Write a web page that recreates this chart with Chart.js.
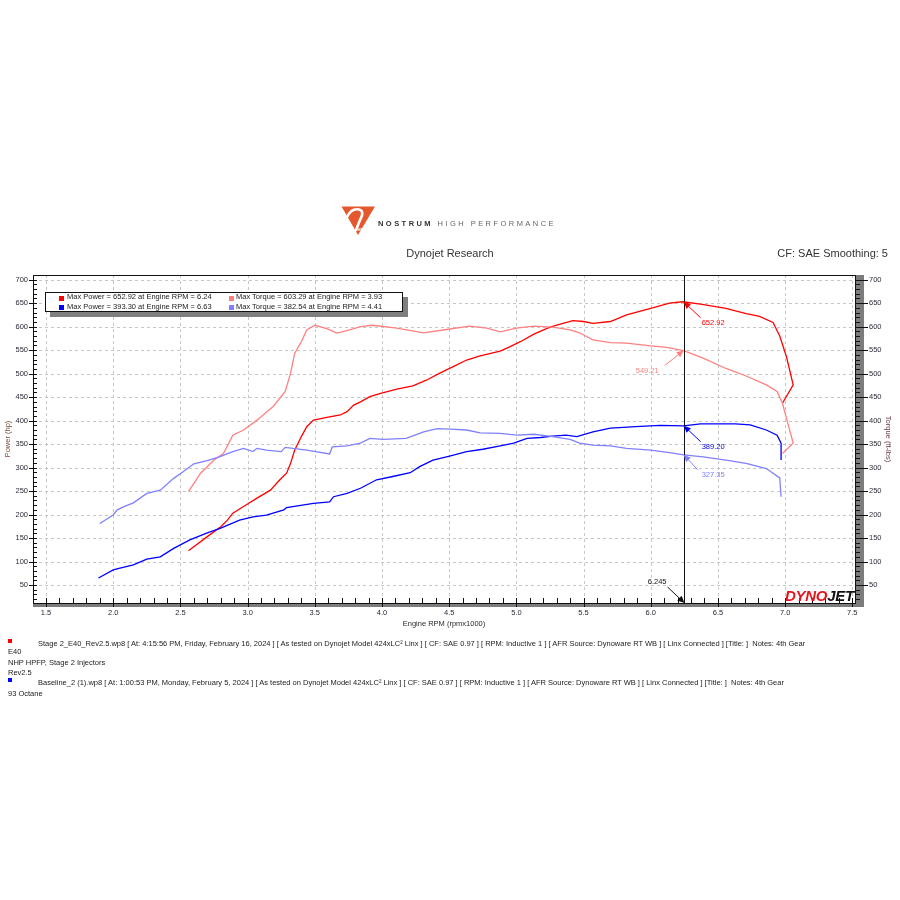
<!DOCTYPE html>
<html>
<head>
<meta charset="utf-8">
<script src="https://cdn.jsdelivr.net/npm/chart.js@4.4.1/dist/chart.umd.min.js"></script>
<style>
html,body{margin:0;padding:0;background:#fff;}
#wrap{position:relative;width:900px;height:900px;overflow:hidden;font-family:"Liberation Sans",Arial,sans-serif;color:#222;background:#fff;}
#c{position:absolute;left:0;top:0;}
.t{position:absolute;white-space:pre;font-size:7.5px;line-height:10px;height:10px;}
.sq{position:absolute;width:4px;height:4px;}
#legend{position:absolute;left:45px;top:292px;width:356px;height:18px;border:1px solid #111;background:#fff;box-shadow:5px 5px 0 #7f7f7f;}
#legend .sq{width:5px;height:5px;}
#nost{position:absolute;left:378px;top:219px;font-size:7.5px;line-height:10px;letter-spacing:2.45px;white-space:pre;}
#dj{position:absolute;left:785px;top:588px;font-size:15px;line-height:16px;font-weight:bold;font-style:italic;letter-spacing:-0.3px;white-space:pre;}
</style>
</head>
<body>
<div id="wrap">
<canvas id="c" width="900" height="900"></canvas>

<svg style="position:absolute;left:338px;top:203px" width="40" height="36" viewBox="0 0 40 36">
  <polygon points="3.5,3.5 37,3.5 20,32" fill="#e5582d"/>
  <path d="M8.5,15 Q13,5 21,6.5 Q27,8 22,17 L18,27" fill="none" stroke="#fff" stroke-width="2.6" stroke-linecap="round"/>
  <text x="19.5" y="28" font-size="4.2" font-family="Liberation Sans" fill="#fff" font-weight="bold">HP</text>
</svg>
<div id="nost"><span style="color:#333;font-weight:bold">NOSTRUM</span><span style="color:#666"> HIGH PERFORMANCE</span></div>

<div class="t" style="left:0;width:900px;text-align:center;top:246px;font-size:11px;line-height:14px;height:14px;color:#333">Dynojet Research</div>
<div class="t" style="right:12px;top:246px;font-size:11px;line-height:14px;height:14px;color:#333">CF: SAE Smoothing: 5</div>

<div id="legend">
  <div class="sq" style="left:13px;top:3px;background:#ff0000"></div>
  <div class="t" style="left:21px;top:-1px">Max Power = 652.92 at Engine RPM = 6.24</div>
  <div class="sq" style="left:183px;top:3px;background:#ff8080"></div>
  <div class="t" style="left:190px;top:-1px">Max Torque = 603.29 at Engine RPM = 3.93</div>
  <div class="sq" style="left:13px;top:12px;background:#0000ff"></div>
  <div class="t" style="left:21px;top:9px">Max Power = 393.30 at Engine RPM = 6.63</div>
  <div class="sq" style="left:183px;top:12px;background:#8080ff"></div>
  <div class="t" style="left:190px;top:9px">Max Torque = 382.54 at Engine RPM = 4.41</div>
</div>

<div id="dj"><span style="color:#e8141c">DYNO</span><span style="color:#111">JET</span></div>

<div class="sq" style="left:8px;top:639px;background:#ff0000"></div>
<div class="t" style="left:38px;top:639px">Stage 2_E40_Rev2.5.wp8 [ At: 4:15:56 PM, Friday, February 16, 2024 ] [ As tested on Dynojet Model 424xLC² Linx ] [ CF: SAE 0.97 ] [ RPM: Inductive 1 ] [ AFR Source: Dynoware RT WB ] [ Linx Connected ] [Title: ]  Notes: 4th Gear</div>
<div class="t" style="left:8px;top:647px">E40</div>
<div class="t" style="left:8px;top:657.5px">NHP HPFP, Stage 2 Injectors</div>
<div class="t" style="left:8px;top:668px">Rev2.5</div>
<div class="sq" style="left:8px;top:678px;background:#0000ff"></div>
<div class="t" style="left:38px;top:678px">Baseline_2 (1).wp8 [ At: 1:00:53 PM, Monday, February 5, 2024 ] [ As tested on Dynojet Model 424xLC² Linx ] [ CF: SAE 0.97 ] [ RPM: Inductive 1 ] [ AFR Source: Dynoware RT WB ] [ Linx Connected ] [Title: ]  Notes: 4th Gear</div>
<div class="t" style="left:8px;top:689px">93 Octane</div>
</div>

<script>
// ---------- DATA ----------
const xTickValues = [1.5, 2.0, 2.5, 3.0, 3.5, 4.0, 4.5, 5.0, 5.5, 6.0, 6.5, 7.0, 7.5];
const xTickLabels = ["1.5","2.0","2.5","3.0","3.5","4.0","4.5","5.0","5.5","6.0","6.5","7.0","7.5"];
const yTickValues = [50,100,150,200,250,300,350,400,450,500,550,600,650,700];
const yTickLabels = ["50","100","150","200","250","300","350","400","450","500","550","600","650","700"];

// Stage 2 E40 – power (hp)
const stage2PowerRpm = [2.56,2.70,2.80,2.85,2.89,2.97,3.07,3.17,3.24,3.29,3.32,3.35,3.40,3.44,3.49,3.59,3.69,3.74,3.79,3.84,3.91,3.99,4.11,4.23,4.33,4.43,4.53,4.63,4.73,4.88,4.95,5.03,5.13,5.25,5.32,5.42,5.50,5.57,5.70,5.82,6.00,6.14,6.24,6.37,6.56,6.71,6.81,6.91,6.96,7.01,7.06,6.98];
const stage2Power    = [123,153,174,188,203,217,235,252,274,288,309,337,366,387,401,407,412,419,433,440,451,458,467,474,486,501,515,529,538,548,557,568,584,599,605,613,611,607,611,625,639,650,653,648,639,628,622,609,580,536,476,437];
// Stage 2 E40 – torque (ft-lbs)
const stage2TorqueRpm = [2.56,2.65,2.75,2.82,2.89,2.97,3.07,3.19,3.28,3.32,3.35,3.40,3.44,3.50,3.59,3.66,3.69,3.79,3.84,3.93,4.11,4.31,4.48,4.65,4.78,4.88,5.00,5.13,5.27,5.40,5.47,5.57,5.70,5.82,6.00,6.12,6.245,6.39,6.56,6.71,6.86,6.94,6.98,7.02,7.06,6.98];
const stage2Torque    = [249,288,316,330,369,380,401,430,462,501,543,568,593,603,596,587,588,596,600,603,597,587,594,601,597,589,597,601,599,593,587,572,566,565,559,556,549,533,511,495,476,462,437,394,352,330];
// Baseline – power (hp)
const basePowerRpm = [1.89,2.00,2.05,2.15,2.25,2.35,2.45,2.57,2.70,2.80,2.94,3.04,3.14,3.27,3.29,3.49,3.61,3.64,3.74,3.84,3.96,4.08,4.21,4.28,4.38,4.51,4.63,4.75,4.88,4.98,5.08,5.18,5.27,5.37,5.45,5.57,5.70,5.89,6.07,6.245,6.37,6.63,6.74,6.86,6.94,6.97,6.97];
const basePower    = [65,82,86,93,105,110,128,146,161,171,188,195,199,210,215,224,227,238,245,256,274,281,289,302,316,325,334,339,346,352,362,364,367,369,366,376,384,387,390,389,393,393,391,380,369,352,316];
// Baseline – torque (ft-lbs)
const baseTorqueRpm = [1.90,2.00,2.03,2.08,2.15,2.25,2.35,2.45,2.52,2.60,2.70,2.79,2.89,2.97,3.04,3.07,3.14,3.25,3.28,3.44,3.61,3.63,3.74,3.84,3.91,4.01,4.18,4.31,4.41,4.51,4.63,4.73,4.88,5.00,5.13,5.27,5.40,5.47,5.57,5.70,5.82,6.00,6.14,6.245,6.39,6.56,6.71,6.86,6.96,6.97];
const baseTorque    = [181,199,210,217,225,245,252,277,291,308,315,323,334,341,334,341,337,334,343,337,329,344,346,352,362,360,362,376,383,382,380,374,373,369,371,366,360,352,348,346,341,337,332,327,323,316,309,298,278,238];

// cursor readout
const cursorRpm = 6.245;
const cursorValues = [652.92, 549.21, 389.20, 327.35];

// ---------- CHART ----------
const FONT = "Liberation Sans";
const colPower2 = "#ff0000", colTorque2 = "#ff8080", colPowerB = "#0000ff", colTorqueB = "#8080ff";

function pts(xs, ys){ return xs.map((x,i)=>({x:x, y:ys[i]})); }
function ds(label, xs, ys, color, axis){
  return {label, data:pts(xs,ys), yAxisID:axis, showLine:true, borderColor:color, backgroundColor:color,
          borderWidth:1.3, pointRadius:0, tension:0, fill:false};
}

function arrow(ctx, x0, y0, x1, y1, color){
  const a = Math.atan2(y1-y0, x1-x0), L = 7, W = 3.2;
  ctx.strokeStyle = color; ctx.fillStyle = color; ctx.lineWidth = 1; ctx.setLineDash([]);
  ctx.beginPath(); ctx.moveTo(x0,y0); ctx.lineTo(x1 - L*0.7*Math.cos(a), y1 - L*0.7*Math.sin(a)); ctx.stroke();
  ctx.beginPath(); ctx.moveTo(x1,y1);
  ctx.lineTo(x1 - L*Math.cos(a) + W*Math.sin(a), y1 - L*Math.sin(a) - W*Math.cos(a));
  ctx.lineTo(x1 - L*Math.cos(a) - W*Math.sin(a), y1 - L*Math.sin(a) + W*Math.cos(a));
  ctx.closePath(); ctx.fill();
}

const dynoPlugin = {
  id: 'dyno',
  beforeDatasetsDraw(chart){
    const {ctx, chartArea:a, scales} = chart, x = scales.x, y = scales.y;
    ctx.save();
    ctx.strokeStyle = '#c6c6c6'; ctx.lineWidth = 1; ctx.setLineDash([3,3]);
    ctx.beginPath();
    xTickValues.forEach(v => { const p = Math.round(x.getPixelForValue(v)) + 0.5; ctx.moveTo(p, a.top); ctx.lineTo(p, a.bottom); });
    yTickValues.forEach(v => { const p = Math.round(y.getPixelForValue(v)) + 0.5; ctx.moveTo(a.left, p); ctx.lineTo(a.right, p); });
    ctx.stroke();
    ctx.restore();
  },
  afterDatasetsDraw(chart){
    const {ctx, chartArea:a, scales} = chart, x = scales.x, y = scales.y, y2 = scales.y2;
    ctx.save();
    // shadow bands
    ctx.fillStyle = '#7c7c7c';
    ctx.fillRect(a.right, a.top, 9, a.bottom - a.top + 4);
    ctx.fillRect(a.left, a.bottom, a.right - a.left + 9, 4);
    // frame
    ctx.strokeStyle = '#111'; ctx.lineWidth = 1; ctx.setLineDash([]);
    ctx.strokeRect(Math.round(a.left)+0.5, Math.round(a.top)+0.5, Math.round(a.right-a.left), Math.round(a.bottom-a.top));
    // ticks
    ctx.beginPath();
    for (let k = 15; k <= 75; k++){
      const v = k/10; if (v < x.min || v > x.max) continue;
      const p = Math.round(x.getPixelForValue(v)) + 0.5;
      const major = (k % 5 === 0);
      ctx.moveTo(p, a.bottom - 5); ctx.lineTo(p, major ? a.bottom + 4 : a.bottom);
    }
    for (let v = 20; v <= 700; v += 10){
      const p = Math.round(y.getPixelForValue(v)) + 0.5;
      const major = (v % 50 === 0);
      ctx.moveTo(major ? a.left - 4 : a.left, p); ctx.lineTo(a.left + 4, p);
      ctx.moveTo(a.right, p); ctx.lineTo(major ? a.right + 13 : a.right + 5, p);
    }
    ctx.stroke();
    // cursor line
    const cx = Math.round(x.getPixelForValue(cursorRpm)) + 0.5;
    ctx.beginPath(); ctx.moveTo(cx, a.top); ctx.lineTo(cx, a.bottom); ctx.stroke();
    // readouts
    ctx.font = "7.5px " + FONT; ctx.textBaseline = 'middle';
    const specs = [
      {v:cursorValues[0], s:y,  c:colPower2,  dx:17,  dy:16, lx:18,  ly:21, al:'left'},
      {v:cursorValues[1], s:y2, c:colTorque2, dx:-19, dy:15, lx:-25, ly:20, al:'right'},
      {v:cursorValues[2], s:y,  c:colPowerB,  dx:17,  dy:16, lx:18,  ly:21, al:'left'},
      {v:cursorValues[3], s:y2, c:colTorqueB, dx:14,  dy:15, lx:18,  ly:20, al:'left'}
    ];
    specs.forEach(sp => {
      const hx = x.getPixelForValue(cursorRpm), hy = sp.s.getPixelForValue(sp.v);
      arrow(ctx, hx + sp.dx, hy + sp.dy, hx, hy, sp.c);
      ctx.fillStyle = sp.c; ctx.textAlign = sp.al;
      ctx.fillText(sp.v.toFixed(2), hx + sp.lx, hy + sp.ly);
    });
    // rpm readout
    const by = a.bottom;
    arrow(ctx, cx - 17, by - 16, cx, by, '#111');
    ctx.fillStyle = '#111'; ctx.textAlign = 'right';
    ctx.fillText(cursorRpm.toFixed(3), cx - 18, by - 21);
    ctx.restore();
  }
};

const tickFont = {family: FONT, size: 7.5};
const titleFont = {family: FONT, size: 7.5};

new Chart(document.getElementById('c'), {
  type: 'scatter',
  data: { datasets: [
    ds('Baseline Torque', baseTorqueRpm, baseTorque, colTorqueB, 'y2'),
    ds('Baseline Power', basePowerRpm, basePower, colPowerB, 'y'),
    ds('Stage 2 Torque', stage2TorqueRpm, stage2Torque, colTorque2, 'y2'),
    ds('Stage 2 Power', stage2PowerRpm, stage2Power, colPower2, 'y')
  ]},
  options: {
    responsive: false, animation: false, devicePixelRatio: 1,
    layout: { padding: { top: 275, bottom: 272, left: 0, right: 0 } },
    plugins: { legend: { display: false }, tooltip: { enabled: false } },
    scales: {
      x: {
        type: 'linear', position: 'bottom', min: 1.403, max: 7.52,
        afterBuildTicks: s => { s.ticks = xTickValues.map(v => ({value: v})); },
        afterFit: s => { s.height = 25; },
        grid: { display: false, drawTicks: false }, border: { display: false },
        ticks: { autoSkip: false, maxRotation: 0, minRotation: 0, padding: 5, font: tickFont, color: '#2a2a3a',
                 callback: (v, i) => xTickLabels[i] },
        title: { display: true, text: 'Engine RPM (rpmx1000)', font: titleFont, color: '#2a2a2a', padding: 0 }
      },
      y: {
        type: 'linear', position: 'left', min: 11.7, max: 710,
        afterBuildTicks: s => { s.ticks = yTickValues.map(v => ({value: v})); },
        afterFit: s => { s.width = 33; },
        grid: { display: false, drawTicks: false }, border: { display: false },
        ticks: { autoSkip: false, padding: 5, font: tickFont, color: '#2a2a3a', callback: (v, i) => yTickLabels[i] },
        title: { display: true, text: 'Power (hp)', font: titleFont, color: '#7a4a3a', padding: { top: 3, bottom: 0 } }
      },
      y2: {
        type: 'linear', position: 'right', min: 11.7, max: 710,
        afterBuildTicks: s => { s.ticks = yTickValues.map(v => ({value: v})); },
        afterFit: s => { s.width = 45; },
        grid: { display: false, drawTicks: false }, border: { display: false },
        ticks: { autoSkip: false, padding: 14, font: tickFont, color: '#2a2a3a', callback: (v, i) => yTickLabels[i] },
        title: { display: true, text: 'Torque (ft-lbs)', font: titleFont, color: '#6a3a4a', padding: { top: 7.5, bottom: 0 } }
      }
    }
  },
  plugins: [dynoPlugin]
});
</script>
</body>
</html>
